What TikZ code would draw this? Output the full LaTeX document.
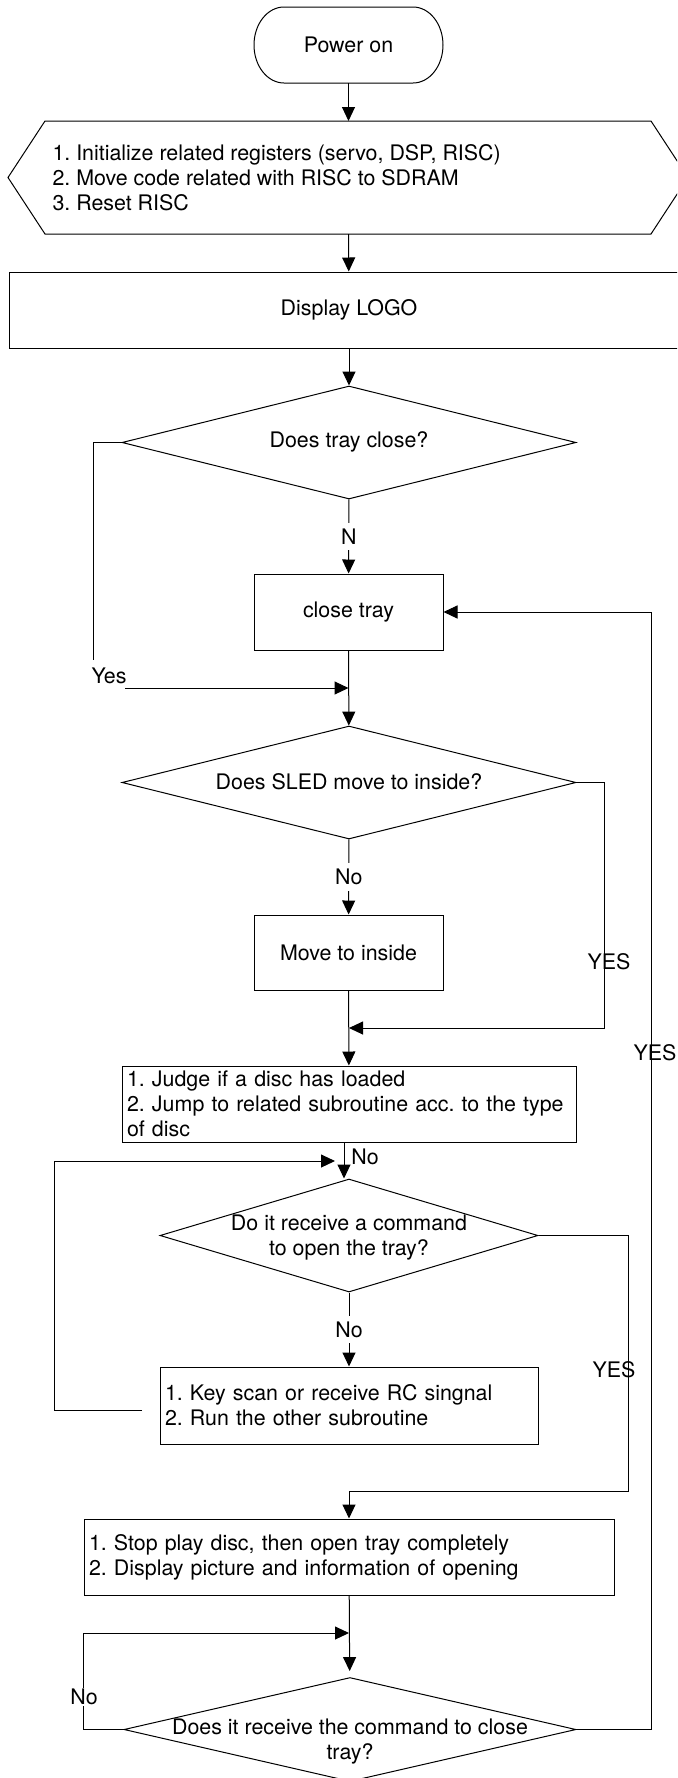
\documentclass[tikz,border=0pt]{standalone}
\usepackage{fontspec}
\setmainfont{TeX Gyre Heros}
\usetikzlibrary{arrows.meta,shapes.geometric}

\tikzset{
  every node/.style={font=\fontsize{10.7}{12.5}\selectfont\frenchspacing},
  box/.style={draw, rectangle, inner sep=2.5pt, minimum height=38pt},
  decision/.style={draw, diamond, inner sep=0pt, minimum height=56.5pt},
  arr/.style={-{Triangle[length=7pt,width=6.5pt]}},
  cut/.style={fill=white, inner sep=3pt}
}

\begin{document}
\begin{tikzpicture}[x=0.5pt, y=-0.5pt, line width=0.5pt]
	\clip (0,0) rectangle (677,1778);
	% start
	\node[minimum width=94.5pt, minimum height=38pt, outer sep=0pt] (power) at (348.5,45) {Power on};
	\draw ([xshift=15pt]power.north west) -- ([xshift=-15pt]power.north east)
		arc[start angle=90, end angle=-90, x radius=15pt, y radius=19pt]
		-- ([xshift=15pt]power.south west)
		arc[start angle=270, end angle=90, x radius=15pt, y radius=19pt] -- cycle;
	% init block
	\draw (8,177.5) -- (45,121) -- (651,121) -- (688,177.5) -- (651,234) -- (45,234) -- cycle;
	\coordinate (initin) at (348.5,121);
	\coordinate (initout) at (348.5,234);
	\node[anchor=west, align=left, inner sep=0pt] (init) at (52,178) {1. Initialize related registers (servo, DSP, RISC)\\2. Move code related with RISC to SDRAM\\3. Reset RISC};
	\node[box, minimum width=340pt] (logo) at (349,310) {Display LOGO};
	% tray
	\node[decision, minimum width=227pt] (d1) at (349,442.5) {};
	\node (d1txt) at (349,442) {Does tray close?};
	\node[box, minimum width=94.5pt] (close) at (348.5,612) {close tray};
	% sled
	\node[decision, minimum width=227pt] (d2) at (349,782.5) {};
	\node (d2txt) at (349,782) {Does SLED move to inside?};
	\node[box, minimum width=94.5pt, minimum height=37.5pt] (move) at (348.5,952.5) {Move to inside};
	\node[box, text width=222pt, align=left] (judge) at (349,1104) {1. Judge if a disc has loaded\\2. Jump to related subroutine acc. to the type\\of disc};
	% open?
	\node[decision, minimum width=189pt] (d3) at (349,1235.5) {};
	\node[align=center] (d3txt) at (349,1238) {Do it receive a command\\to open the tray?};
	\node[box, text width=184pt, align=left, minimum height=38.5pt] (key) at (349,1405.5) {1. Key scan or receive RC singnal\\2. Run the other subroutine};
	\node[box, text width=260pt, align=left] (stop) at (349,1557) {1. Stop play disc, then open tray completely\\2. Display picture and information of opening};
	% close?
	\node[decision, minimum width=226pt, minimum height=52pt] (d4) at (350,1729.5) {};
	\node[align=center] (d4txt) at (350,1742) {Does it receive the command to close\\tray?};

	% main line
	\draw[arr] (power) -- (initin);
	\draw[arr] (initout) -- (logo);
	\draw[arr] (logo) -- (d1);
	\draw[arr] (d1) -- node[cut]{N} (close);
	\draw[arr] (close) -- (d2);
	\draw[arr] (d2) -- node[cut]{No} (move);
	\draw[arr] (move) -- (judge);
	\draw[arr] ([xshift=-2.5pt]judge.south) -- ([xshift=-2.5pt]d3.north);
	\node (no1) at (365,1157) {No};
	\draw[arr] (d3) -- node[cut]{No} (key);
	\draw[arr, shorten >=3pt] (stop) -- (d4);

	% tray closed
	\node (yes) at (109,676) {Yes};
	\coordinate (yesup) at (93,660);
	\coordinate (yesin) at (125,688);
	\draw (d1.west) -| (yesup);
	\draw[arr] (yesin) -- (yesin -| close.south);
	% sled inside
	\coordinate (sledjoin) at (349,1028);
	\draw[arr] (d2.east) -- ++(28,0) |- (sledjoin);
	\node (yes2) at (609,962) {YES};
	% wait for key
	\coordinate (keyout) at (142,1410);
	\coordinate (trayin) at (335,1161);
	\draw[arr] (keyout) -- ++(-88,0) |- (trayin);
	% open tray
	\coordinate (openjoin) at (349,1491);
	\draw[arr] (d3.east) -- ++(90,0) |- (openjoin) -- (stop);
	\node (yes3) at (614,1370) {YES};
	% wait for close
	\coordinate (closejoin) at (349,1633);
	\draw[arr] (d4.west) -- ++(-40,0) |- (closejoin);
	\node[cut, inner sep=0.5pt] (no4) at (84,1697) {No};
	\draw[arr] (d4.east) -- ++(75,0) |- (close.east);
	\node (yes4) at (655,1053) {YES};
\end{tikzpicture}
\end{document}
